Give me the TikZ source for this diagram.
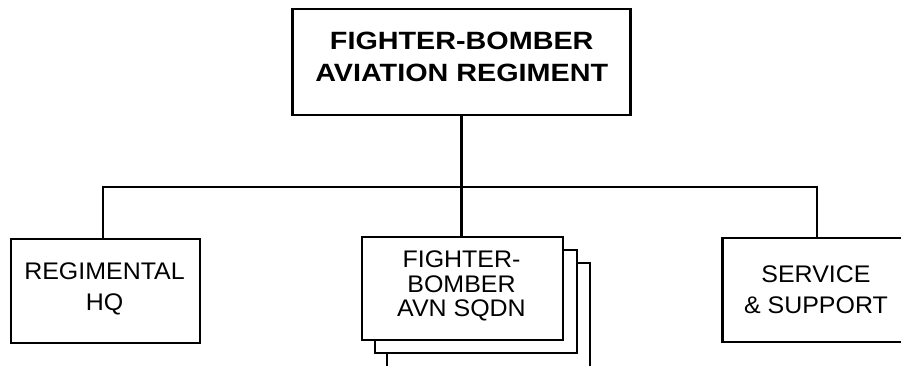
\documentclass[tikz,border=0pt]{standalone}
\usepackage{fontspec}
\setmainfont{Liberation Sans}
\newfontfamily\rfont{Liberation Sans}[FakeStretch=1.04]
\newfontfamily\bfont{Liberation Sans}[FakeStretch=1.15]
\begin{document}
\begin{tikzpicture}[x=1pt,y=-1pt,
  box/.style={draw=black, line width=2.7pt, fill=white, rectangle, inner sep=0pt},
  conn/.style={draw=black, line width=2.7pt},
  ttl/.style={inner sep=0pt, align=center, font=\bfont\bfseries\fontsize{25}{32}\selectfont},
  lbl/.style={inner sep=0pt, align=center, font=\rfont\fontsize{24}{31}\selectfont},
  lbltight/.style={inner sep=0pt, align=center, font=\rfont\fontsize{24}{24.5}\selectfont}]
\useasboundingbox (0,0) rectangle (901,365);
\clip (0,0) rectangle (901,365);
% top box
\node[box, minimum width=338pt, minimum height=106pt] (top) at (461.7,62) {};
\node[ttl] (toptext) at (461.7,57.3) {FIGHTER-BOMBER\\AVIATION REGIMENT};
% left box
\node[box, minimum width=189pt, minimum height=104pt] (hq) at (105.5,291) {};
\node[lbl] (hqtext) at (104.5,288.5) {REGIMENTAL\\HQ};
% middle stacked boxes
\node[box, minimum width=203pt, minimum height=130pt] (sq3) at (488.5,328) {};
\node[box, minimum width=202pt, minimum height=103pt] (sq2) at (476,301.5) {};
\node[box, minimum width=201pt, minimum height=103pt] (sq1) at (462.5,288.5) {};
\node[lbltight] (sqtext) at (461.5,286) {FIGHTER-\\BOMBER\\AVN SQDN};
% right box (extends beyond the picture edge)
\node[box, minimum width=190pt, minimum height=104pt, anchor=west] (ss) at (721,290) {};
\node[lbl] (sstext) at (816,289.6) {SERVICE\\\& SUPPORT};
% connectors
\coordinate (bus) at (461.7,187);
\coordinate (hqtop) at (103,187);
\coordinate (sstop) at (817,187);
\draw[conn] (top.south) -- (bus);
\draw[conn, line cap=rect] (hq.north -| hqtop) -- (hqtop) -- (sstop) -- (ss.north -| sstop);
\draw[conn] (bus) -- (sq1.north -| bus);
\end{tikzpicture}
\end{document}
